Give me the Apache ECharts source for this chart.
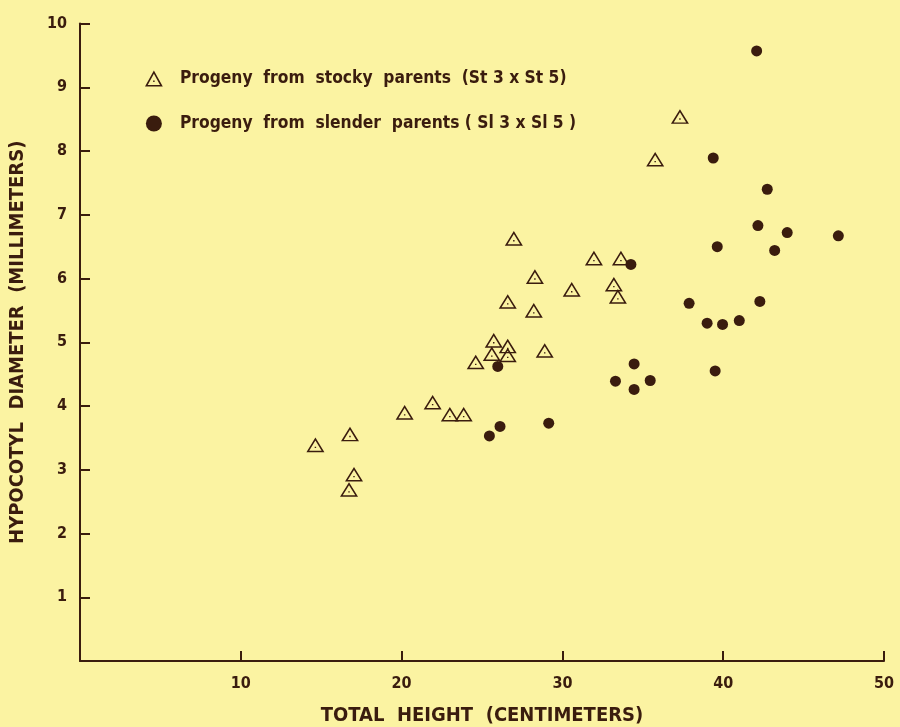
<!DOCTYPE html>
<html><head><meta charset="utf-8">
<script src="https://cdn.jsdelivr.net/npm/echarts@6/dist/echarts.min.js"></script>
<style>html,body{margin:0;padding:0;background:#fbf3a2;}#c{width:900px;height:727px;}</style>
</head><body><div id="c"></div>
<script>
var xTicks = [10, 20, 30, 40, 50];
var yTicks = [1, 2, 3, 4, 5, 6, 7, 8, 9, 10];
var stockyName = 'Progeny  from  stocky  parents  (St 3 x St 5)';
var slenderName = 'Progeny  from  slender  parents ( Sl 3 x Sl 5 )';
var stockyX = [14.64, 16.79, 17.04, 16.73, 20.19, 21.93, 23.0, 23.86, 24.61, 25.73, 25.61, 26.6, 26.6, 26.6, 26.98, 28.29, 28.22, 28.9, 30.58, 31.96, 33.2, 33.45, 33.64, 35.77, 37.31];
var stockyY = [3.39, 3.56, 2.93, 2.69, 3.90, 4.06, 3.87, 3.87, 4.69, 5.03, 4.82, 4.94, 4.80, 5.64, 6.63, 6.03, 5.50, 4.87, 5.83, 6.32, 5.91, 5.72, 6.32, 7.87, 8.54];
var slenderX = [42.08, 39.38, 42.74, 42.16, 43.98, 47.16, 43.2, 39.63, 34.26, 37.88, 42.28, 39.0, 39.96, 41.0, 39.5, 34.46, 33.3, 35.46, 34.46, 25.98, 26.12, 25.46, 29.15];
var slenderY = [9.57, 7.89, 7.40, 6.83, 6.72, 6.67, 6.44, 6.50, 6.22, 5.61, 5.64, 5.30, 5.28, 5.34, 4.55, 4.66, 4.39, 4.40, 4.26, 4.62, 3.68, 3.53, 3.73];

var ink = '#3a1c0e';
var font = "'Liberation Sans Narrow','DejaVu Sans Condensed','Roboto',sans-serif";
var tri = 'path://M50 0L100 90L0 90Z M50 18.5L15.3 81L84.7 81Z M46 56L54 56L54 64L46 64Z';

function pairs(xs, ys) { return xs.map(function (x, i) { return [x, ys[i]]; }); }

var chart = echarts.init(document.getElementById('c'));
chart.setOption({
  backgroundColor: '#fbf3a2',
  animation: false,
  grid: { left: 80, right: 16, top: 23.5, bottom: 66, containLabel: false, outerBoundsMode: 'none' },
  legend: {
    orient: 'vertical', left: 140, top: 65, itemGap: 28,
    itemWidth: 18, itemHeight: 16,
    textStyle: { color: ink, fontFamily: font, fontWeight: 'bold', fontSize: 17.3, padding: [0, 0, 0, 12] },
    data: [
      { name: stockyName, icon: tri },
      { name: slenderName, icon: 'circle' }
    ]
  },
  xAxis: {
    type: 'value', min: 0, max: 50, interval: 10,
    name: 'TOTAL  HEIGHT  (CENTIMETERS)', nameLocation: 'middle', nameGap: 45,
    nameTextStyle: { color: ink, fontFamily: font, fontWeight: 'bold', fontSize: 20 },
    axisLine: { lineStyle: { color: ink, width: 2 } },
    axisTick: { inside: true, length: 10, lineStyle: { color: ink, width: 2 } },
    splitLine: { show: false },
    axisLabel: { color: ink, fontFamily: font, fontWeight: 'bold', fontSize: 16, margin: 15,
      formatter: function (v) { return xTicks.indexOf(v) >= 0 ? String(v) : ''; } }
  },
  yAxis: {
    type: 'value', min: 0, max: 10, interval: 1,
    name: 'HYPOCOTYL  DIAMETER  (MILLIMETERS)', nameLocation: 'middle', nameGap: 52,
    nameTextStyle: { color: ink, fontFamily: font, fontWeight: 'bold', fontSize: 20 },
    axisLine: { show: true, lineStyle: { color: ink, width: 2 } },
    axisTick: { show: true, inside: true, length: 10, lineStyle: { color: ink, width: 2 } },
    splitLine: { show: false },
    axisLabel: { color: ink, fontFamily: font, fontWeight: 'bold', fontSize: 16, margin: 13,
      padding: [0, 0, 16, 0],
      formatter: function (v) { return yTicks.indexOf(v) >= 0 ? String(v) : ''; } }
  },
  series: [
    { name: stockyName, type: 'scatter', symbol: tri, symbolKeepAspect: true, symbolSize: [18, 16.2],
      itemStyle: { color: ink, opacity: 1 }, data: pairs(stockyX, stockyY), z: 3 },
    { name: slenderName, type: 'scatter', symbol: 'circle', symbolSize: 11,
      itemStyle: { color: ink, opacity: 1 }, data: pairs(slenderX, slenderY), z: 2 }
  ]
});
</script></body></html>
